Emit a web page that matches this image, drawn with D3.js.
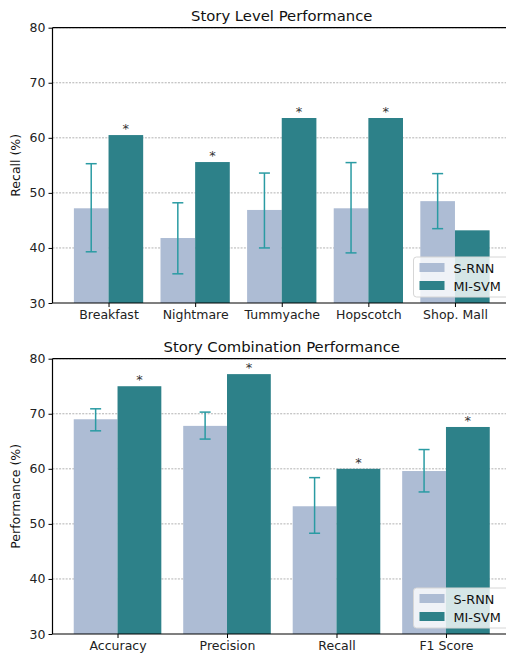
<!DOCTYPE html>
<html>
<head>
<meta charset="utf-8">
<script src="https://cdn.jsdelivr.net/npm/d3@7"></script>
<style>
  body { margin: 0; background: #fff; }
  svg { font-family: "DejaVu Sans", sans-serif; }
</style>
</head>
<body>
<div id="chart"></div>
<script>
// two grouped bar panels: S-RNN (with error bars) vs MI-SVM

const seriesNames = ["S-RNN", "MI-SVM"];

// top panel
const storyCats = ["Breakfast", "Nightmare", "Tummyache", "Hopscotch", "Shop. Mall"];
const storySrnn = [47.2, 41.8, 46.9, 47.2, 48.5];
const storySrnnLow = [39.3, 35.3, 40.0, 39.1, 43.5];
const storySrnnHigh = [55.3, 48.2, 53.6, 55.5, 53.5];
const storyMisvm = [60.5, 55.6, 63.6, 63.6, 43.2];
const storySig = [true, true, true, true, false];

// bottom panel
const comboCats = ["Accuracy", "Precision", "Recall", "F1 Score"];
const comboSrnn = [69.0, 67.8, 53.2, 59.6];
const comboSrnnLow = [66.9, 65.4, 48.3, 55.8];
const comboSrnnHigh = [70.9, 70.3, 58.4, 63.5];
const comboMisvm = [75.0, 77.2, 60.0, 67.6];
const comboSig = [true, true, true, true];

const yTicks = [30, 40, 50, 60, 70, 80];

const colSrnn = "#adbcd4";
const colMisvm = "#2d8189";
const colErr = "#2a9ba3";

const W = 506, H = 657;
const svg = d3.select("#chart").append("svg")
    .attr("width", W)
    .attr("height", H);

function panel(opts) {
    const n = opts.cats.length;
    const x = d3.scaleLinear()
        .domain([-opts.pad, n - 1 + opts.pad])
        .range([52.5, 511]);
    const y = d3.scaleLinear()
        .domain([30, 80])
        .range([opts.bottom, opts.top]);
    const g = svg.append("g");
    const bw = 0.4;

    // grid
    g.append("g").selectAll("line")
        .data(yTicks.slice(1))
        .enter().append("line")
        .attr("x1", x.range()[0]).attr("x2", x.range()[1])
        .attr("y1", d => y(d)).attr("y2", d => y(d))
        .attr("stroke", "#aaa")
        .attr("stroke-width", 0.9)
        .attr("stroke-dasharray", "2,1.3");

    const idx = d3.range(n);

    // bars
    g.append("g").selectAll("rect")
        .data(idx)
        .enter().append("rect")
        .attr("x", i => x(i - bw))
        .attr("width", x(bw) - x(0))
        .attr("y", i => y(opts.srnn[i]))
        .attr("height", i => y(30) - y(opts.srnn[i]))
        .attr("fill", colSrnn);

    g.append("g").selectAll("rect")
        .data(idx)
        .enter().append("rect")
        .attr("x", i => x(i))
        .attr("width", x(bw) - x(0))
        .attr("y", i => y(opts.misvm[i]))
        .attr("height", i => y(30) - y(opts.misvm[i]))
        .attr("fill", colMisvm);

    // error bars
    const eb = g.append("g").attr("stroke", colErr).attr("stroke-width", 1.5);
    idx.forEach(i => {
        const cx = x(i - bw / 2);
        eb.append("line")
            .attr("x1", cx).attr("x2", cx)
            .attr("y1", y(opts.low[i])).attr("y2", y(opts.high[i]));
        [opts.low[i], opts.high[i]].forEach(v => {
            eb.append("line")
                .attr("x1", cx - 5.5).attr("x2", cx + 5.5)
                .attr("y1", y(v)).attr("y2", y(v));
        });
    });

    // significance stars
    g.append("g").selectAll("text")
        .data(idx.filter(i => opts.sig[i]))
        .enter().append("text")
        .attr("x", i => x(i + bw / 2))
        .attr("y", i => y(opts.misvm[i]) - 2)
        .attr("text-anchor", "middle")
        .attr("font-size", 13)
        .attr("fill", "#333")
        .text("*");

    // axes
    const yAxis = g.append("g")
        .attr("transform", "translate(" + x.range()[0] + ",0)")
        .call(d3.axisLeft(y).tickValues(yTicks).tickSize(4).tickPadding(3));
    yAxis.select(".domain").remove();
    yAxis.selectAll("text").attr("font-size", 12.5).attr("font-family", "DejaVu Sans").attr("fill", "#222");
    yAxis.selectAll("line").attr("stroke", "#000").attr("stroke-width", 1);

    const xAxis = g.append("g")
        .attr("transform", "translate(0," + y(30) + ")")
        .call(d3.axisBottom(x).tickValues(idx).tickFormat(i => opts.cats[i]).tickSize(4).tickPadding(3));
    xAxis.select(".domain").remove();
    xAxis.selectAll("text").attr("font-size", 12.5).attr("font-family", "DejaVu Sans").attr("fill", "#222");
    xAxis.selectAll("line").attr("stroke", "#000").attr("stroke-width", 1);

    // frame
    const fr = g.append("g").attr("stroke", "#000").attr("stroke-width", 1.2).attr("fill", "none");
    fr.append("line").attr("x1", x.range()[0]).attr("x2", x.range()[0]).attr("y1", y(80)).attr("y2", y(30));
    fr.append("line").attr("x1", x.range()[0]).attr("x2", x.range()[1]).attr("y1", y(80)).attr("y2", y(80));
    fr.append("line").attr("x1", x.range()[0]).attr("x2", x.range()[1]).attr("y1", y(30)).attr("y2", y(30));
    fr.append("line").attr("x1", x.range()[1]).attr("x2", x.range()[1]).attr("y1", y(80)).attr("y2", y(30));

    // title
    g.append("text")
        .attr("x", (x.range()[0] + x.range()[1]) / 2)
        .attr("y", y(80) - 7)
        .attr("text-anchor", "middle")
        .attr("font-size", 14.8)
        .attr("fill", "#111")
        .text(opts.title);

    // y label
    g.append("text")
        .attr("transform", "translate(20," + ((y(30) + y(80)) / 2) + ") rotate(-90)")
        .attr("text-anchor", "middle")
        .attr("font-size", 12.5)
        .attr("fill", "#111")
        .text(opts.ylabel);

    // legend
    const lg = g.append("g").attr("transform", "translate(413.5," + (y(30) - 46) + ")");
    lg.append("rect")
        .attr("width", 96).attr("height", 40)
        .attr("rx", 3)
        .attr("fill", "rgba(255,255,255,0.8)")
        .attr("stroke", "#d6d6d6");
    seriesNames.forEach((s, k) => {
        lg.append("rect")
            .attr("x", 6).attr("y", 6 + k * 18)
            .attr("width", 25).attr("height", 9)
            .attr("fill", k === 0 ? colSrnn : colMisvm);
        lg.append("text")
            .attr("x", 40).attr("y", 15.5 + k * 18)
            .attr("font-size", 12.8)
            .attr("fill", "#111")
            .text(s);
    });
}

panel({
    title: "Story Level Performance", ylabel: "Recall (%)",
    cats: storyCats, srnn: storySrnn, low: storySrnnLow, high: storySrnnHigh,
    misvm: storyMisvm, sig: storySig, pad: 0.647, top: 27.7, bottom: 303
});

panel({
    title: "Story Combination Performance", ylabel: "Performance (%)",
    cats: comboCats, srnn: comboSrnn, low: comboSrnnLow, high: comboSrnnHigh,
    misvm: comboMisvm, sig: comboSig, pad: 0.594, top: 358.7, bottom: 634
});
</script>
</body>
</html>
